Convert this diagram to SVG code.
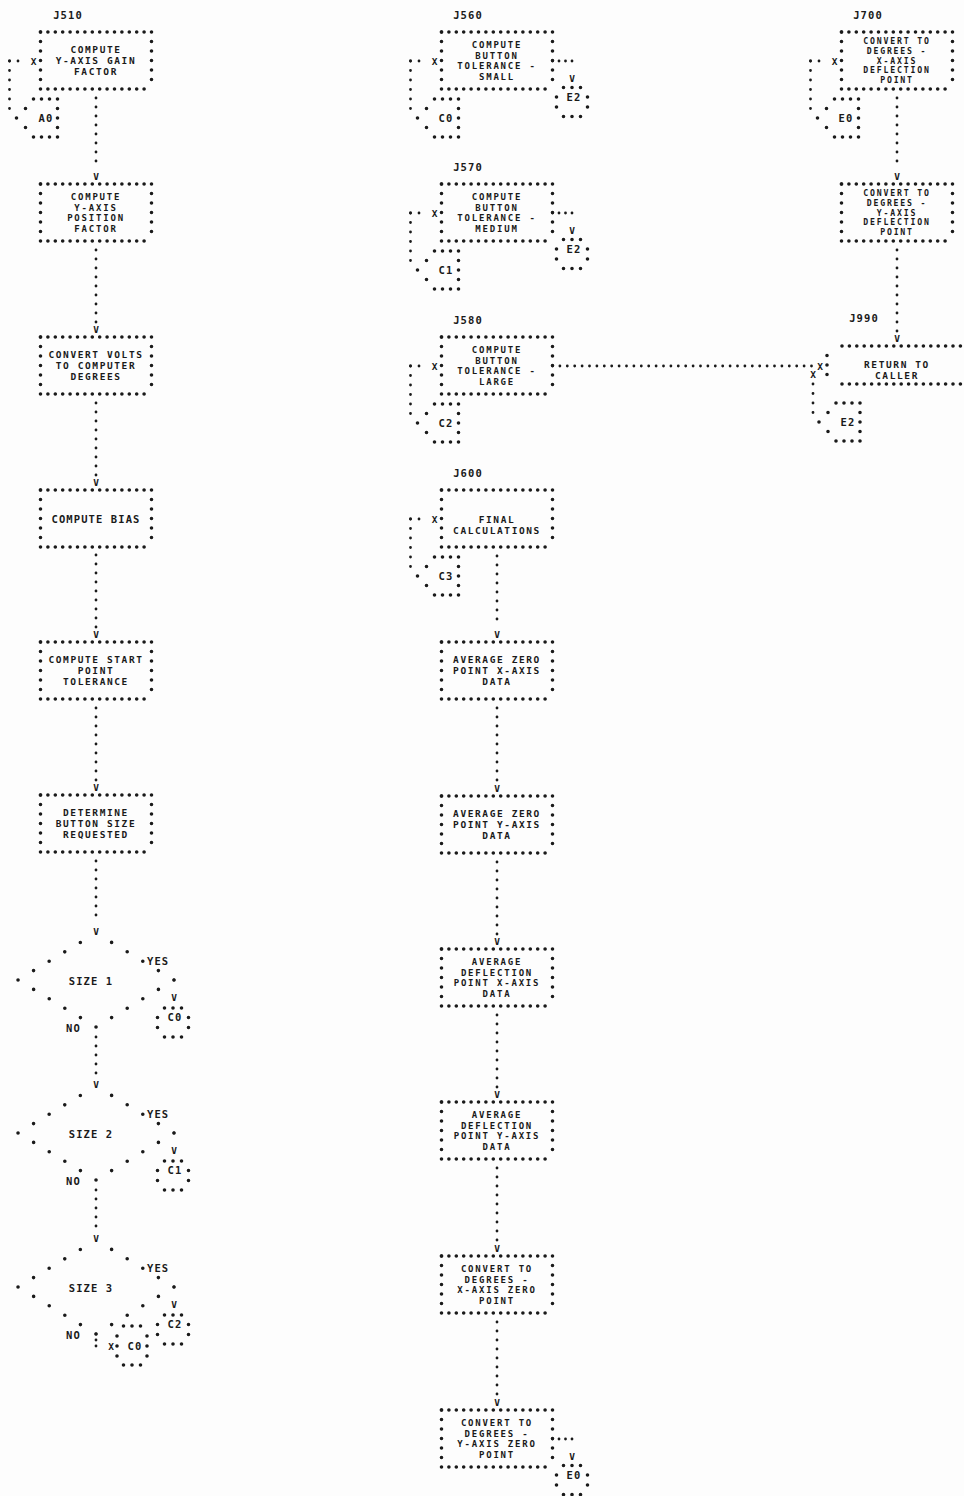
<svg xmlns="http://www.w3.org/2000/svg" width="964" height="1496" viewBox="0 0 964 1496">
<style>
.d{fill:none;stroke:#1a1a1a;stroke-linecap:round}
.b{stroke-width:3.6}
.c{stroke-width:2.8}
.h{stroke-dasharray:0 7.4}
.v{stroke-dasharray:0 9.5}
.cv{stroke-dasharray:0 9}
.cs{stroke-dasharray:0 6.5}
.c8{stroke-dasharray:0 8.5}
.dg{stroke-dasharray:0 18.21}
text{font-family:"DejaVu Sans Mono","Liberation Mono",monospace;font-weight:bold;font-size:10.5px;letter-spacing:1.1px;fill:#1a1a1a;text-anchor:middle}
.st{text-anchor:start}
.x{font-size:9.5px;letter-spacing:0}
.t3{font-size:9.5px;letter-spacing:1.6px}
.t4{font-size:9px;letter-spacing:1.8px}
.t5{font-size:8.2px;letter-spacing:1.8px}
</style>
<defs>
<g id="box"><path class="d b h" d="M0,0H111M0,57H111"/><path class="d b v" d="M0,0V57M111,0V57"/></g>
<path id="ent" class="d b" d="M-24,-19h0M-16,-19h0M-8,-19h0M0,-19h0M0,-9.5h0M0,0h0M0,9.5h0M0,19h0M-8,19h0M-16,19h0M-24,19h0M-32,9.5h0M-41,0h0M-32,-9.5h0"/>
<path id="ext" class="d b" d="M-8.5,-14.5h0M0,-14.5h0M8.5,-14.5h0M15.5,-5h0M15.5,5h0M8.5,14.5h0M0,14.5h0M-8.5,14.5h0M-15.5,5h0M-15.5,-5h0"/>
<path id="dia" class="d b dg" d="M15.6,-37.6L78,0L0,47L-78,0L-15.6,-37.6"/>
</defs>
<rect width="964" height="1496" fill="#fdfdfd"/>

<!-- Column 1 -->
<g id="j510">
<text x="68" y="19">J510</text>
<use href="#box" x="40.5" y="32"/>
<text class="t3"><tspan x="96" y="52.9">COMPUTE</tspan><tspan x="96" y="64">Y-AXIS GAIN</tspan><tspan x="96" y="75.1">FACTOR</tspan></text>
</g>
<g id="ypos"><use href="#box" x="40.5" y="184"/>
<text class="t4"><tspan x="96" y="200.05">COMPUTE</tspan><tspan x="96" y="210.55">Y-AXIS</tspan><tspan x="96" y="221.05">POSITION</tspan><tspan x="96" y="231.55">FACTOR</tspan></text></g>
<g id="volts"><use href="#box" x="40.5" y="337"/>
<text class="t3"><tspan x="96" y="357.9">CONVERT VOLTS</tspan><tspan x="96" y="369">TO COMPUTER</tspan><tspan x="96" y="380.1">DEGREES</tspan></text></g>
<g id="bias"><use href="#box" x="40.5" y="490"/>
<text x="96" y="522.5">COMPUTE BIAS</text></g>
<g id="start"><use href="#box" x="40.5" y="642"/>
<text class="t3"><tspan x="96" y="662.9">COMPUTE START</tspan><tspan x="96" y="674">POINT</tspan><tspan x="96" y="685.1">TOLERANCE</tspan></text></g>
<g id="determine"><use href="#box" x="40.5" y="795"/>
<text class="t3"><tspan x="96" y="815.9">DETERMINE</tspan><tspan x="96" y="827">BUTTON SIZE</tspan><tspan x="96" y="838.1">REQUESTED</tspan></text></g>
<g id="size1"><use href="#dia" x="96" y="980"/>
<text x="91" y="984.5">SIZE 1</text><text class="st" x="147" y="964.5">YES</text><text class="st" x="66" y="1031.5">NO</text></g>
<g id="size2"><use href="#dia" x="96" y="1133"/>
<text x="91" y="1137.5">SIZE 2</text><text class="st" x="147" y="1117.5">YES</text><text class="st" x="66" y="1184.5">NO</text></g>
<g id="size3"><use href="#dia" x="96" y="1287"/>
<text x="91" y="1291.5">SIZE 3</text><text class="st" x="147" y="1271.5">YES</text><text class="st" x="66" y="1338.5">NO</text></g>
<g id="conA0"><use href="#ent" x="57.5" y="118"/><text x="46" y="121.5">A0</text></g>
<g id="conC0a"><use href="#ext" x="173" y="1022.5"/><text x="175" y="1021">C0</text></g>
<g id="conC1a"><use href="#ext" x="173" y="1175.5"/><text x="175" y="1174">C1</text></g>
<g id="conC2a"><use href="#ext" x="173" y="1329.5"/><text x="175" y="1328">C2</text></g>
<g id="conC0b"><path class="d b" d="M123.5,1326h0M132,1326h0M140.5,1326h0M117,1336h0M147,1336h0M117,1346h0M147,1346h0M117,1356h0M147,1356h0M123.5,1365h0M132,1365h0M140.5,1365h0"/><text x="135" y="1349.5">C0</text></g>

<!-- Column 2 -->
<g id="j560"><text x="468" y="19">J560</text><use href="#box" x="441.5" y="32"/>
<text class="t4"><tspan x="497" y="48.05">COMPUTE</tspan><tspan x="497" y="58.55">BUTTON</tspan><tspan x="497" y="69.05">TOLERANCE -</tspan><tspan x="497" y="79.55">SMALL</tspan></text></g>
<g id="j570"><text x="468" y="171">J570</text><use href="#box" x="441.5" y="184"/>
<text class="t4"><tspan x="497" y="200.05">COMPUTE</tspan><tspan x="497" y="210.55">BUTTON</tspan><tspan x="497" y="221.05">TOLERANCE -</tspan><tspan x="497" y="231.55">MEDIUM</tspan></text></g>
<g id="j580"><text x="468" y="324">J580</text><use href="#box" x="441.5" y="337"/>
<text class="t4"><tspan x="497" y="353.05">COMPUTE</tspan><tspan x="497" y="363.55">BUTTON</tspan><tspan x="497" y="374.05">TOLERANCE -</tspan><tspan x="497" y="384.55">LARGE</tspan></text></g>
<g id="j600"><text x="468" y="477">J600</text><use href="#box" x="441.5" y="490"/>
<text class="t3"><tspan x="497" y="522.5">FINAL</tspan><tspan x="497" y="533.6">CALCULATIONS</tspan></text></g>
<g id="avgzx"><use href="#box" x="441.5" y="642"/>
<text class="t3"><tspan x="497" y="662.9">AVERAGE ZERO</tspan><tspan x="497" y="674">POINT X-AXIS</tspan><tspan x="497" y="685.1">DATA</tspan></text></g>
<g id="avgzy"><use href="#box" x="441.5" y="796"/>
<text class="t3"><tspan x="497" y="816.9">AVERAGE ZERO</tspan><tspan x="497" y="828">POINT Y-AXIS</tspan><tspan x="497" y="839.1">DATA</tspan></text></g>
<g id="avgdx"><use href="#box" x="441.5" y="949"/>
<text class="t4"><tspan x="497" y="965.05">AVERAGE</tspan><tspan x="497" y="975.55">DEFLECTION</tspan><tspan x="497" y="986.05">POINT X-AXIS</tspan><tspan x="497" y="996.55">DATA</tspan></text></g>
<g id="avgdy"><use href="#box" x="441.5" y="1102"/>
<text class="t4"><tspan x="497" y="1118.05">AVERAGE</tspan><tspan x="497" y="1128.55">DEFLECTION</tspan><tspan x="497" y="1139.05">POINT Y-AXIS</tspan><tspan x="497" y="1149.55">DATA</tspan></text></g>
<g id="cvzx"><use href="#box" x="441.5" y="1256"/>
<text class="t4"><tspan x="497" y="1272.05">CONVERT TO</tspan><tspan x="497" y="1282.55">DEGREES -</tspan><tspan x="497" y="1293.05">X-AXIS ZERO</tspan><tspan x="497" y="1303.55">POINT</tspan></text></g>
<g id="cvzy"><use href="#box" x="441.5" y="1410"/>
<text class="t4"><tspan x="497" y="1426.05">CONVERT TO</tspan><tspan x="497" y="1436.55">DEGREES -</tspan><tspan x="497" y="1447.05">Y-AXIS ZERO</tspan><tspan x="497" y="1457.55">POINT</tspan></text></g>
<g id="conC0"><use href="#ent" x="458.5" y="118"/><text x="446" y="121.5">C0</text></g>
<g id="conC1"><use href="#ent" x="458.5" y="270"/><text x="446" y="273.5">C1</text></g>
<g id="conC2"><use href="#ent" x="458.5" y="423"/><text x="446" y="426.5">C2</text></g>
<g id="conC3"><use href="#ent" x="458.5" y="576"/><text x="446" y="579.5">C3</text></g>
<g id="conE2a"><use href="#ext" x="572" y="102"/><text x="574" y="100.5">E2</text></g>
<g id="conE2b"><use href="#ext" x="572" y="254"/><text x="574" y="252.5">E2</text></g>
<g id="conE0a"><use href="#ext" x="572" y="1480"/><text x="574" y="1478.5">E0</text></g>

<!-- Column 3 -->
<g id="j700"><text x="868" y="19">J700</text><use href="#box" x="841.5" y="32"/>
<text class="t5"><tspan x="897" y="44.3">CONVERT TO</tspan><tspan x="897" y="53.9">DEGREES -</tspan><tspan x="897" y="63.5">X-AXIS</tspan><tspan x="897" y="73.1">DEFLECTION</tspan><tspan x="897" y="82.7">POINT</tspan></text></g>
<g id="cvdy"><use href="#box" x="841.5" y="184"/>
<text class="t5"><tspan x="897" y="196.3">CONVERT TO</tspan><tspan x="897" y="205.9">DEGREES -</tspan><tspan x="897" y="215.5">Y-AXIS</tspan><tspan x="897" y="225.1">DEFLECTION</tspan><tspan x="897" y="234.7">POINT</tspan></text></g>
<g id="j990"><text x="864" y="322">J990</text>
<path class="d b h" d="M842,346H964M842,384H964"/>
<path class="d b" d="M827,355.5h0M827,365h0M827,374.5h0"/>
<text class="t3"><tspan x="897" y="367.5">RETURN TO</tspan><tspan x="897" y="378.6">CALLER</tspan></text></g>
<g id="conE0"><use href="#ent" x="858.5" y="118"/><text x="846" y="121.5">E0</text></g>
<g id="conE2c"><use href="#ent" x="860" y="422"/><text x="848" y="425.5">E2</text></g>

<!-- Connectors -->
<g id="connectors">
<path class="d c cv" d="M96,98V170M96,250V323M96,403V476M96,555V628M96,708V781M96,861V922M96,1037V1076M96,1190V1229"/>
<path class="d c cv" d="M497,556V628M497,708V782M497,862V935M497,1015V1088M497,1168V1242M497,1322V1396"/>
<path class="d c cv" d="M897,98V170M897,250V334"/>
<g>
<text class="x" x="96" y="180">V</text><text class="x" x="96" y="333">V</text><text class="x" x="96" y="486">V</text><text class="x" x="96" y="638">V</text><text class="x" x="96" y="791">V</text><text class="x" x="96" y="935">V</text><text class="x" x="96" y="1088">V</text><text class="x" x="96" y="1242">V</text>
<text class="x" x="497" y="638">V</text><text class="x" x="497" y="792">V</text><text class="x" x="497" y="945">V</text><text class="x" x="497" y="1098">V</text><text class="x" x="497" y="1252">V</text><text class="x" x="497" y="1406">V</text>
<text class="x" x="897" y="180">V</text><text class="x" x="897" y="342">V</text>
</g>
<!-- entry connectors -->
<path class="d c c8" d="M9.5,61H26.5M410.5,61H427.5M410.5,213H427.5M410.5,366H427.5M410.5,519H427.5M810.5,61H827.5"/>
<path class="d c v" d="M9.5,61V118M410.5,61V118M410.5,213V270M410.5,366V423M410.5,519V576M810.5,61V118"/>
<g>
<text class="x" x="33.5" y="64.5">X</text><text class="x" x="434.5" y="64.5">X</text><text class="x" x="434.5" y="216.5">X</text><text class="x" x="434.5" y="369.5">X</text><text class="x" x="434.5" y="522.5">X</text><text class="x" x="834.5" y="64.5">X</text>
</g>
<!-- exits to the right -->
<path class="d c cs" d="M552.5,61H572M552.5,213H572M552.5,1439H572"/>
<path class="d c cv" d="M572,61V70M572,213V222M572,1439V1448"/>
<text class="x" x="572" y="81.5">V</text><text class="x" x="572" y="233.5">V</text><text class="x" x="572" y="1459.5">V</text>
<!-- YES branches -->
<path class="d c" style="stroke-dasharray:0 10" d="M174,980V990M174,1133V1143M174,1287V1297"/>
<text class="x" x="174" y="1001">V</text><text class="x" x="174" y="1154">V</text><text class="x" x="174" y="1308">V</text>
<!-- SIZE 3 NO branch -->
<path class="d c" style="stroke-dasharray:0 6" d="M96,1334V1346"/>
<path class="d c" style="stroke-dasharray:0 8" d="M96,1346H104"/>
<text class="x" x="111" y="1349.5">X</text>
<!-- J580 to RETURN -->
<path class="d c h" d="M552.5,366H811.5"/>
<text class="x" x="820" y="369.5">X</text>
<text class="x" x="813" y="378">X</text>
<path class="d c v" d="M813,384V422"/>
</g>
</svg>
